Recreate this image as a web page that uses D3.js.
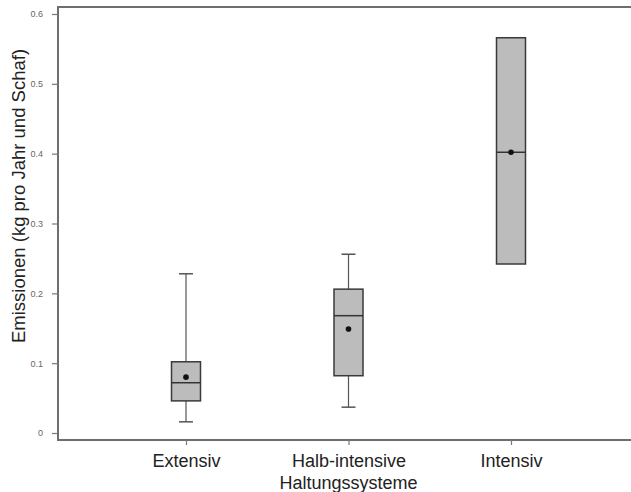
<!DOCTYPE html>
<html><head><meta charset="utf-8">
<script src="https://cdn.jsdelivr.net/npm/d3@7"></script>
<style>body{margin:0;background:#fff}svg{display:block}</style>
</head><body>
<script>
const categories = ["Extensiv", "Halb-intensive", "Intensiv"];
const whiskerLow  = [0.016, 0.037, null];
const q1          = [0.046, 0.082, 0.242];
const median      = [0.072, 0.168, 0.402];
const q3          = [0.102, 0.206, 0.566];
const whiskerHigh = [0.228, 0.256, null];
const means       = [0.080, 0.149, 0.402];
const yTicks = [0, 0.1, 0.2, 0.3, 0.4, 0.5, 0.6];
const yTickLabels = ["0", "0.1", "0.2", "0.3", "0.4", "0.5", "0.6"];

(function () {
const W = 631, H = 492;
const svg = d3.select("body").append("svg").attr("width", W).attr("height", H);
const mLeft = 58, mTop = 7, mBottom = 440;
const font = "Liberation Sans, Arial, sans-serif";

const y = d3.scaleLinear().domain([0, 0.6]).range([433, 14]);
const x = d3.scalePoint().domain(categories).range([186, 511]);

// frame
svg.append("line").attr("x1", mLeft).attr("x2", W).attr("y1", mTop).attr("y2", mTop)
  .attr("stroke", "#6e6e6e").attr("stroke-width", 2);
svg.append("line").attr("x1", mLeft).attr("x2", W).attr("y1", mBottom).attr("y2", mBottom)
  .attr("stroke", "#6e6e6e").attr("stroke-width", 2);
svg.append("line").attr("x1", mLeft).attr("x2", mLeft).attr("y1", mTop - 1).attr("y2", mBottom + 1)
  .attr("stroke", "#6e6e6e").attr("stroke-width", 2);

// y axis
const yAxis = d3.axisLeft(y).tickValues(yTicks).tickSize(6).tickPadding(9)
  .tickFormat((d, i) => yTickLabels[i]);
const gy = svg.append("g").attr("transform", `translate(${mLeft},0)`).call(yAxis);
gy.select(".domain").remove();
gy.selectAll(".tick line").attr("stroke", "#777").attr("stroke-width", 1.2);
gy.selectAll(".tick text").attr("fill", "#666").style("font-family", font).style("font-size", "9px");

// x axis
const xAxis = d3.axisBottom(x).tickSize(5).tickPadding(0);
const gx = svg.append("g").attr("transform", `translate(0,${mBottom})`).call(xAxis);
gx.select(".domain").remove();
gx.selectAll(".tick line").attr("stroke", "#777").attr("stroke-width", 1.2);
gx.selectAll(".tick text").attr("dy", null).attr("y", 27).attr("fill", "#222")
  .style("font-family", font).style("font-size", "18px");

svg.append("text").attr("x", x("Halb-intensive")).attr("y", 489).attr("text-anchor", "middle")
  .attr("fill", "#222").style("font-family", font).style("font-size", "18px")
  .text("Haltungssysteme");

svg.append("text").attr("transform", "translate(25,196) rotate(-90)").attr("text-anchor", "middle")
  .attr("fill", "#222").style("font-family", font).style("font-size", "18.5px")
  .text("Emissionen (kg pro Jahr und Schaf)");

// boxes
const bw = 29, cap = 14;
const g = svg.append("g");
categories.forEach((c, i) => {
  const cx = x(c);
  if (whiskerLow[i] !== null) {
    g.append("line").attr("x1", cx).attr("x2", cx).attr("y1", y(whiskerLow[i])).attr("y2", y(q1[i]))
      .attr("stroke", "#555").attr("stroke-width", 1.2);
    g.append("line").attr("x1", cx - cap/2).attr("x2", cx + cap/2).attr("y1", y(whiskerLow[i])).attr("y2", y(whiskerLow[i]))
      .attr("stroke", "#555").attr("stroke-width", 1.5);
  }
  if (whiskerHigh[i] !== null) {
    g.append("line").attr("x1", cx).attr("x2", cx).attr("y1", y(whiskerHigh[i])).attr("y2", y(q3[i]))
      .attr("stroke", "#555").attr("stroke-width", 1.2);
    g.append("line").attr("x1", cx - cap/2).attr("x2", cx + cap/2).attr("y1", y(whiskerHigh[i])).attr("y2", y(whiskerHigh[i]))
      .attr("stroke", "#555").attr("stroke-width", 1.5);
  }
  g.append("rect").attr("x", cx - bw/2).attr("width", bw)
    .attr("y", y(q3[i])).attr("height", y(q1[i]) - y(q3[i]))
    .attr("fill", "#bcbcbc").attr("stroke", "#3a3a3a").attr("stroke-width", 1.5);
  g.append("line").attr("x1", cx - bw/2).attr("x2", cx + bw/2).attr("y1", y(median[i])).attr("y2", y(median[i]))
    .attr("stroke", "#333").attr("stroke-width", 1.5);
  g.append("circle").attr("cx", cx).attr("cy", y(means[i])).attr("r", 2.8).attr("fill", "#111");
});
})();
</script>
</body></html>
